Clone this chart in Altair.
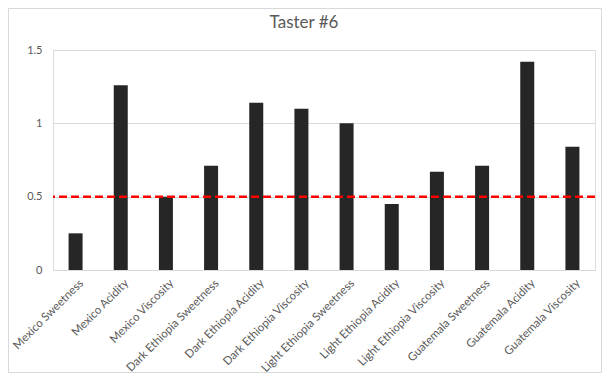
import altair as alt
import pandas as pd

categories = [
    "Mexico Sweetness", "Mexico Acidity", "Mexico Viscosity",
    "Dark Ethiopia Sweetness", "Dark Ethiopia  Acidity", "Dark Ethiopia Viscosity",
    "Light Ethiopia Sweetness", "Light Ethiopia Acidity", "Light Ethiopia Viscosity",
    "Guatemala Sweetness", "Guatemala Acidity", "Guatemala Viscosity",
]
values = [0.25, 1.26, 0.5, 0.71, 1.14, 1.10, 1.0, 0.45, 0.67, 0.71, 1.42, 0.84]
threshold = 0.5
y_ticks = [0, 0.5, 1, 1.5]
title_text = ["Taster #6"]

df = pd.DataFrame({"category": categories, "value": values})

W, H = 542, 220
FONT = "Lato"
GREY = "#595959"
yscale = alt.Scale(domain=[0, 1.5], nice=False, zero=True)

bars = alt.Chart(df).mark_bar(color="#262626").encode(
    x=alt.X("category:N", sort=categories, title=None,
            scale=alt.Scale(paddingInner=0.69, paddingOuter=0.345),
            axis=alt.Axis(labelAngle=-45, ticks=False, domain=False,
                          labelColor=GREY, labelFont=FONT, labelFontSize=11.5,
                          labelPadding=7, labelOffset=2, grid=False,
                          labelLimit=300)),
    y=alt.Y("value:Q", title=None, scale=yscale,
            axis=alt.Axis(values=y_ticks, ticks=False, domain=False,
                          labelColor=GREY, labelFont=FONT, labelFontSize=11,
                          labelPadding=11, gridColor="#d9d9d9", gridWidth=1,
                          labelExpr="format(datum.value, '')")),
)

rule = alt.Chart(pd.DataFrame({"t": [threshold]})).mark_rule(
    color="#ff0000", strokeWidth=2.5, strokeDash=[8, 4]
).encode(y=alt.Y("t:Q", scale=yscale))

border = alt.Chart(pd.DataFrame({"a": [0]})).mark_rect(
    fill=None, stroke="#d9d9d9", strokeWidth=1, clip=False
).encode(
    x=alt.value(-44.5), x2=alt.value(W + 6.5),
    y=alt.value(-41.5), y2=alt.value(H + 102.5),
)

title = alt.Chart(pd.DataFrame({"t": title_text})).mark_text(
    font=FONT, fontSize=17, color=GREY, align="center", baseline="alphabetic"
).encode(text="t:N", x=alt.value(251), y=alt.value(-22))

chart = alt.layer(bars, rule, border, title).properties(
    width=W, height=H,
    autosize=alt.AutoSizeParams(type="none"),
    padding={"left": 45, "top": 42, "right": 7, "bottom": 103},
).configure_view(stroke=None).configure(background="white")

chart.save("out.html", embed_options={"renderer": "svg", "actions": False})
